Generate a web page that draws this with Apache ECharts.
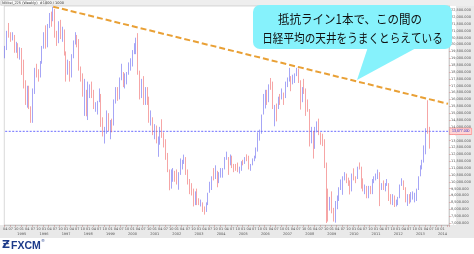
<!DOCTYPE html>
<html><head><meta charset="utf-8">
<script src="https://cdn.jsdelivr.net/npm/echarts@6/dist/echarts.min.js"></script>
<style>html,body{margin:0;padding:0;background:#fff;}#c{width:474px;height:254px;}</style>
</head><body><div id="c"></div>
<script>
// Monthly OHLC, Apr 1994 – Jun 2013 (read/estimated from the picture)
const opens = [
19112,19725,20974,20644,20449,20629,19564,19990,19076,
19723,18650,17053,16140,16807,15437,14517,16678,18117,17913,17655,18744,
19868,20813,20125,21407,22041,21956,22531,20693,20167,21556,20467,21020,
19361,18330,18557,18003,19151,20069,20605,20331,18229,17888,16459,16636,
15259,16628,16832,16527,15641,15671,15830,16379,14108,13406,13564,14883,
13842,14499,14368,15837,16701,16112,17530,17862,17437,17605,17942,18558,
18934,19540,19960,20337,17974,16332,17411,15727,16861,15747,14539,14649,
13786,13843,12884,12999,13934,13262,12969,11861,10714,9775,10366,10697,
10543,9997,10588,11025,11493,11764,10622,9877,9619,9383,8640,9216,
8579,8340,8363,7973,7831,8425,9083,9563,10344,10219,10560,10101,
10677,10784,11042,11715,11762,11236,11859,11326,11082,10824,10771,10899,
11489,11388,11741,11669,11009,11277,11584,11900,12414,13574,13607,14872,
16111,16650,16205,17060,16906,15467,15505,15457,16141,16128,16399,16274,
17226,17383,17604,17288,17400,17876,18138,17249,16569,16786,16738,15681,
15308,13592,13603,12526,13850,14339,13481,13377,13073,11260,8577,8512,
8860,7994,7568,8110,8828,9523,9958,10357,10493,10133,10035,9346,
10546,10198,10126,11090,11057,9769,9383,9537,8824,9369,9202,9937,
10229,10238,10624,9755,9850,9694,9816,9833,8955,8700,8988,8435,
8455,8803,9723,10084,9521,8543,9007,8695,8840,8870,8928,9446,
10395,11139,11559,12398,13861,13775
];
const highs = [
19900,21000,21573,20900,20900,20700,20200,20100,19800,
19750,18900,17400,17000,17000,15500,16800,18300,18600,18200,18800,19900,
20900,21400,21500,22300,22400,22750,22600,21000,21700,21800,21300,21100,
19500,18900,18800,19300,20300,20900,20700,20400,18400,17900,17500,16700,
17300,17100,17300,16700,15800,15900,16800,16400,14700,14000,15200,15000,
14500,14600,16000,16900,16900,17600,18600,18000,17900,18000,18700,19000,
19600,20100,20500,20833,18100,17500,17700,16900,16900,16200,15200,14700,
14200,14100,13300,14000,14556,13600,13100,12100,10900,10900,11000,10800,
10900,10700,11700,11600,11979,11800,10900,10200,9900,9500,9300,9500,
8800,8700,8500,8200,8500,9200,10000,10400,11000,11200,10800,10700,
11000,11000,11800,12195,11800,11990,11900,11300,11300,11400,11100,11500,
11600,11800,12000,11900,11300,11700,11900,12500,13600,13800,14900,16400,
16700,16700,17100,17563,17300,15600,15700,16200,16400,16800,16500,17300,
17600,18300,17700,17800,17900,18300,18262,17400,16900,17500,16800,16000,
15300,14000,13700,14000,14400,14601,13600,13500,13100,11400,9500,8900,
9300,8100,8600,9000,9600,10170,10400,10700,10600,10300,10100,10600,
10982,10400,11100,11408,11100,10250,9800,9700,9700,9700,10200,10400,
10600,10891,10700,9900,10100,9900,10200,9900,9100,9100,9000,8700,
8900,9800,10255,10100,9600,9100,9100,9250,9300,9200,9500,10400,
11200,11600,12650,13900,15942,14000
];
const lows = [
19000,19600,20500,20200,20300,19400,19400,19000,18900,
17785,16800,15600,15400,15300,14295,14295,16400,17600,17300,17600,18600,
19700,19700,19800,21200,21300,21700,20500,19900,20100,20400,20200,19200,
17300,17800,17300,17600,19000,20000,19800,18100,17300,16200,14800,14775,
14500,16100,16100,15300,15100,14900,15800,14000,13300,12787,13500,13700,
13100,13600,14100,15700,15900,16000,17400,16900,16800,17100,17800,18100,
18400,19300,19300,17800,16000,16100,15600,15600,15600,14300,14100,13400,
13100,12800,11819,12700,13200,12500,11600,10700,9382,9500,10000,10000,
9800,9420,10500,10900,11300,10500,9800,9100,9000,8200,8300,8300,
8300,8200,7800,7607,7800,8300,9200,9400,10100,10200,9600,9900,
10300,10300,10900,11600,10500,11200,11000,10700,10800,10700,10600,10800,
11200,11300,11500,10900,10800,11200,11500,11700,12200,13000,13500,14900,
15341,15600,15800,16700,15300,14045,14400,15300,15600,16000,15600,16100,
16900,17300,16600,17100,17200,17700,17200,15262,15800,16400,14800,15100,
12573,12800,11691,12400,13600,13400,12700,12600,11000,6995,7100,7900,
7700,7100,7021,8000,8600,9400,9050,10100,9900,9700,9076,9300,
10100,9900,10200,10900,9500,9300,9100,8800,8800,9100,9100,9900,
10100,10200,8227,9400,9400,9300,9700,8600,8350,8300,8160,8200,
8300,8800,9700,9400,8500,8238,8400,8500,8700,8500,8600,9400,
10400,10900,11400,12000,13500,12415
];
const closes = [
19725,20974,20644,20449,20629,19564,19990,19076,19723,
18650,17053,16140,16807,15437,14517,16678,18117,17913,17655,18744,19868,
20813,20125,21407,22041,21956,22531,20693,20167,21556,20467,21020,19361,
18330,18557,18003,19151,20069,20605,20331,18229,17888,16459,16636,15259,
16628,16832,16527,15641,15671,15830,16379,14108,13406,13564,14883,13842,
14499,14368,15837,16701,16112,17530,17862,17437,17605,17942,18558,18934,
19540,19960,20337,17974,16332,17411,15727,16861,15747,14539,14649,13786,
13843,12884,12999,13934,13262,12969,11861,10714,9775,10366,10697,10543,
9997,10588,11025,11493,11764,10622,9877,9619,9383,8640,9216,8579,
8340,8363,7973,7831,8425,9083,9563,10344,10219,10560,10101,10677,
10784,11042,11715,11762,11236,11859,11326,11082,10824,10771,10899,11489,
11388,11741,11669,11009,11277,11584,11900,12414,13574,13607,14872,16111,
16650,16205,17060,16906,15467,15505,15457,16141,16128,16399,16274,17226,
17383,17604,17288,17400,17876,18138,17249,16569,16786,16738,15681,15308,
13592,13603,12526,13850,14339,13481,13377,13073,11260,8577,8512,8860,
7994,7568,8110,8828,9523,9958,10357,10493,10133,10035,9346,10546,
10198,10126,11090,11057,9769,9383,9537,8824,9369,9202,9937,10229,
10238,10624,9755,9850,9694,9816,9833,8955,8700,8988,8435,8455,
8803,9723,10084,9521,8543,9007,8695,8840,8870,8928,9446,10395,
11139,11559,12398,13861,13775,13677
];
// axis: monthly categories Apr 1994 – Apr 2014
const firstMonth = [1994, 4];
const lastMonth = [2014, 4];
const monthTicks = ['01', '04', '07', '10'];
const yTicks = [7000,7500,8000,8500,9000,9500,10000,10500,11000,11500,12000,12500,13000,13500,14000,14500,15000,15500,16000,16500,17000,17500,18000,18500,19000,19500,20000,20500,21000,21500,22000,22500];
const trendStart = ['1996-06', 22760];
const trendEnd = ['2014-04', 15680];
const lastPrice = 13677;

const categories = [];
for (let y = firstMonth[0], m = firstMonth[1]; y < lastMonth[0] || (y === lastMonth[0] && m <= lastMonth[1]); ) {
  categories.push(y + '-' + String(m).padStart(2, '0'));
  m++; if (m > 12) { m = 1; y++; }
}
const candles = opens.map((o, i) => [o, closes[i], lows[i], highs[i]]);
const fmt = v => v.toLocaleString('en-US', {minimumFractionDigits: 3, maximumFractionDigits: 3});
const isTickMonth = (idx, val) => monthTicks.includes(val.slice(5));

const chart = echarts.init(document.getElementById('c'), null, {renderer: 'canvas'});
chart.setOption({
  animation: false,
  backgroundColor: '#ffffff',
  grid: {left: 3, top: 6, width: 453, height: 219, show: true, borderColor: '#b0b0b0', borderWidth: 0.5, backgroundColor: '#ffffff'},
  xAxis: {
    type: 'category', data: categories, boundaryGap: true,
    axisLine: {show: true, lineStyle: {color: '#b0b0b0', width: 0.5}},
    axisTick: {show: true, interval: isTickMonth, length: 2, lineStyle: {color: '#c08080', width: 0.5}},
    axisLabel: {
      show: true, interval: isTickMonth, fontSize: 3.5, lineHeight: 5, margin: 2, color: '#555', fontFamily: 'DejaVu Sans',
      formatter: v => v.slice(5) === '01' ? '01\n' + v.slice(0, 4) : v.slice(5)
    },
    splitLine: {show: false}
  },
  yAxis: {
    type: 'value', position: 'right', min: 6850, max: 22810, scale: true,
    axisLine: {show: true, lineStyle: {color: '#b0b0b0', width: 0.5}},
    axisTick: {show: true, length: 2, customValues: yTicks, lineStyle: {color: '#d08080', width: 0.5}},
    axisLabel: {show: true, customValues: yTicks, fontSize: 3.5, margin: 2, color: '#555', fontFamily: 'DejaVu Sans', formatter: v => fmt(v)},
    splitLine: {show: false}
  },
  series: [
    {
      type: 'line', z: 1, silent: true, symbol: 'none', animation: false,
      data: [[categories[0], lastPrice], [categories[categories.length - 1], lastPrice]],
      lineStyle: {color: '#6b6bff', width: 1, type: [2, 1.5]},
      endLabel: {show: true, distance: 2, formatter: () => fmt(lastPrice), fontSize: 3.5, color: '#3030c0',
                 backgroundColor: '#ffd4d4', borderColor: '#ff7070', borderWidth: 0.5, padding: [1, 2]}
    },
    {
      type: 'candlestick', z: 2, data: candles, barWidth: '55%',
      itemStyle: {color: '#7c7cff', color0: '#ff7c7c', borderColor: '#6a6af0', borderColor0: '#f06a6a', borderWidth: 0.6},
      markLine: {
        symbol: ['none', 'none'], silent: true,
        data: [
          [{coord: trendStart, lineStyle: {color: '#e9a035', width: 2, type: [6, 3]}, label: {show: false}}, {coord: trendEnd}]
        ]
      }
    }
  ],
  graphic: [
    {type: 'rect', z: -10, shape: {x: 0, y: 0, width: 474, height: 6}, style: {fill: '#eeeeee'}},
    {type: 'rect', z: -10, shape: {x: 456, y: 6, width: 18, height: 219}, style: {fill: '#e9e9e9'}},
    {type: 'rect', z: -10, shape: {x: 0, y: 225, width: 474, height: 13}, style: {fill: '#e9e9e9'}},
    {type: 'rect', z: 5, shape: {x: 1, y: 0.5, width: 45, height: 4.5}, style: {fill: '#fafafa', stroke: '#aaa', lineWidth: 0.4}},
    {type: 'text', z: 6, x: 2, y: 0.8, style: {text: 'Nikkei_225 (Weekly)  #1000 / 1000', fontSize: 3.5, fill: '#333', fontFamily: 'DejaVu Sans'}},
    {type: 'polygon', z: 50, shape: {points: [[368, 47], [418, 47], [357, 80]]}, style: {fill: '#86f2fc'}},
    {type: 'rect', z: 50, shape: {x: 253, y: 5, width: 199, height: 44, r: 7}, style: {fill: '#86f2fc'}},
    {type: 'text', z: 51, x: 350, y: 19.5, scaleX: 0.92, style: {text: '抵抗ライン1本で、この間の', fontSize: 12.5, fontFamily: 'Noto Sans CJK JP', fill: '#111', align: 'center', verticalAlign: 'middle'}},
    {type: 'text', z: 51, x: 352.5, y: 38, scaleX: 0.85, style: {text: '日経平均の天井をうまくとらえている', fontSize: 12.5, fontFamily: 'Noto Sans CJK JP', fill: '#111', align: 'center', verticalAlign: 'middle'}},
    {type: 'text', z: 5, x: 2, y: 240, style: {text: 'Ƶ', fontSize: 11, fontWeight: 'bold', fill: '#1d3b8a', fontFamily: 'DejaVu Sans'}},
    {type: 'text', z: 5, x: 11, y: 240.5, style: {text: 'FXCM', fontSize: 10.5, fontWeight: 'bold', fill: '#1d3b8a', fontFamily: 'Liberation Sans'}},
    {type: 'text', z: 5, x: 41, y: 239, style: {text: '®', fontSize: 4, fill: '#1d3b8a', fontFamily: 'DejaVu Sans'}}
  ]
});
</script></body></html>
